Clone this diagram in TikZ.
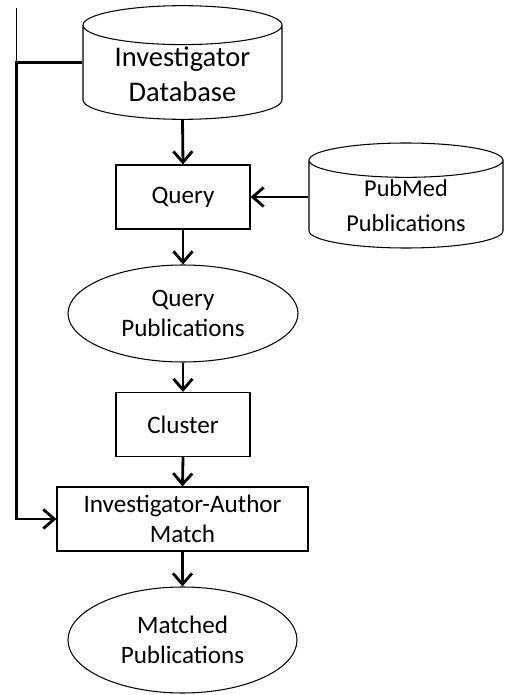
\documentclass[tikz,border=0pt]{standalone}
\usepackage{fontspec}
\setmainfont{Carlito}
\usetikzlibrary{shapes.geometric,arrows.meta}

\begin{document}
\begin{tikzpicture}[
  flow/.style={line width=1.6pt,-{Straight Barb[length=2.2mm,width=3.8mm]}},
  store/.style={draw,line width=0.6pt,cylinder,shape border rotate=90,aspect=0.28,inner sep=1pt,anchor=shape center,align=center,font=\fontsize{13.8}{19.9}\selectfont},
  stepbox/.style={draw,line width=0.6pt,minimum height=1.28cm,align=center,font=\fontsize{14.3}{17.2}\selectfont},
  result/.style={draw,ellipse,line width=0.6pt,inner sep=1pt,align=center,font=\fontsize{14.3}{17.2}\selectfont}
]
\useasboundingbox (0,0) rectangle (10.1,13.9);
\node[store,minimum width=3.98cm,minimum height=2.18cm,font=\fontsize{16.2}{19.9}\selectfont] (invdb) at (3.65,12.65) {Investigator\\Database};
\node[store,minimum width=3.88cm,minimum height=2.1cm] (pubmed) at (8.12,9.99) {PubMed\\Publications};
\node[stepbox,minimum width=2.68cm] (query) at (3.66,9.96) {Query};
\node[result,minimum width=4.6cm,minimum height=1.94cm] (querypub) at (3.66,7.63) {Query\\Publications};
\node[stepbox,minimum width=2.68cm] (cluster) at (3.66,5.41) {Cluster};
\node[stepbox,minimum width=5.02cm] (iamatch) at (3.65,3.52) {Investigator-Author\\Match};
\node[result,minimum width=4.58cm,minimum height=2.12cm] (matchpub) at (3.65,1.1) {Matched\\Publications};
\coordinate (lane) at (0.33,13.74);
\coordinate (dbside) at (invdb.west |- invdb.shape center);
\draw[line width=0.6pt] (lane) -- (lane |- dbside);
\draw[flow] (dbside) -- (lane |- dbside) |- (iamatch.west);
\draw[flow] (invdb.south) -- (query.north);
\draw[flow] (pubmed.west |- query.east) -- (query.east);
\draw[flow] (query.south) -- (querypub.north);
\draw[flow] (querypub.south) -- (cluster.north);
\draw[flow] (cluster.south) -- (iamatch.north);
\draw[flow] (iamatch.south) -- (matchpub.north);
\end{tikzpicture}
\end{document}
